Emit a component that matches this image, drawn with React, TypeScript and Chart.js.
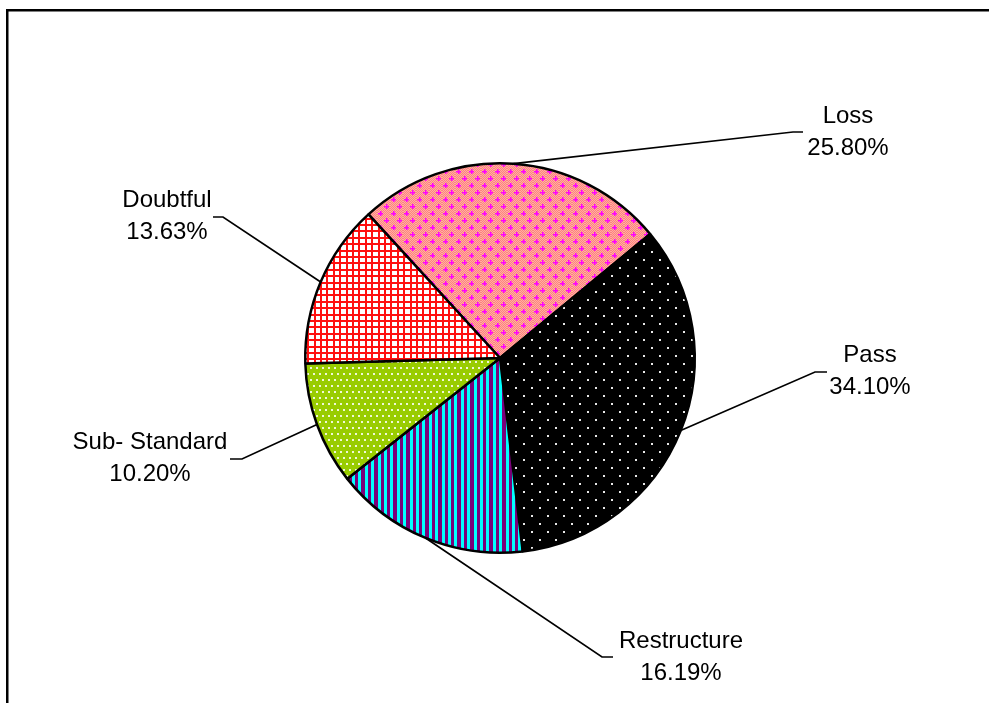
import React, { useEffect, useRef } from "react";
import { Chart, registerables } from "chart.js";
Chart.register(...registerables);

const categories = ["Loss", "Pass", "Restructure", "Sub- Standard", "Doubtful"];
const shares = [25.8, 34.1, 16.19, 10.2, 13.63];
const shareLabels = ["25.80%", "34.10%", "16.19%", "10.20%", "13.63%"];

// label layout (text centre x, first baseline y, leader elbow, leader end)
const labelLayout = [
  { x: 848, y: 123, elbow: [793, 132], end: [803, 132] },
  { x: 870, y: 362, elbow: [815, 372], end: [827, 372] },
  { x: 681, y: 648, elbow: [602, 657], end: [613, 657] },
  { x: 150, y: 449, elbow: [242, 459], end: [230, 459] },
  { x: 167, y: 207, elbow: [223, 217], end: [213, 217] },
];

function tile(w: number, h: number, draw: (c: CanvasRenderingContext2D) => void) {
  const cv = document.createElement("canvas");
  cv.width = w;
  cv.height = h;
  const c = cv.getContext("2d")!;
  draw(c);
  return c.createPattern(cv, "repeat")!;
}

function makePatterns() {
  const loss = tile(13, 14, (c) => {
    for (let y = 0; y < 14; y++)
      for (let x = 0; x < 13; x++) {
        c.fillStyle = (x + y) % 2 === 0 ? "#FF8080" : "#FFB0A0";
        c.fillRect(x, y, 1, 1);
      }
    c.fillStyle = "#FF00FF";
    const plus = (px: number, py: number) => {
      c.fillRect(px - 2, py, 5, 1.5);
      c.fillRect(px, py - 2, 1.5, 5);
    };
    plus(3, 3);
    plus(9, 10);
  });
  const pass = tile(16, 16, (c) => {
    c.fillStyle = "#000000";
    c.fillRect(0, 0, 16, 16);
    c.fillStyle = "#E8E8E8";
    c.fillRect(3, 3, 2, 2);
    c.fillRect(11, 11, 2, 2);
  });
  const restructure = tile(32, 4, (c) => {
    c.fillStyle = "#7A007A";
    c.fillRect(0, 0, 32, 4);
    c.fillStyle = "#00FFFF";
    for (let i = 0; i < 5; i++) {
      const x0 = Math.round(i * 6.4);
      c.fillRect(x0, 0, 3, 4);
    }
  });
  const sub = tile(12, 12, (c) => {
    c.fillStyle = "#99CC00";
    c.fillRect(0, 0, 12, 12);
    c.fillStyle = "#F0F8D8";
    c.fillRect(1, 1, 2, 2);
    c.fillRect(7, 1, 2, 2);
    c.fillRect(4, 7, 2, 2);
    c.fillRect(10, 7, 2, 2);
  });
  const doubtful = tile(32, 32, (c) => {
    c.fillStyle = "#FFFFFF";
    c.fillRect(0, 0, 32, 32);
    c.fillStyle = "#FF1010";
    for (let i = 0; i < 5; i++) {
      const p = Math.round(i * 6.4);
      c.fillRect(p, 0, 2, 32);
      c.fillRect(0, p, 32, 2);
    }
  });
  return [loss, pass, restructure, sub, doubtful];
}

const labelPlugin = {
  id: "pieLabels",
  beforeDraw(chart: any) {
    const c = chart.ctx;
    c.save();
    c.fillStyle = "#000";
    c.fillRect(6, 9, 983, 2.5);
    c.fillRect(6, 9, 2.5, 694);
    c.restore();
  },
  afterDraw(chart: any) {
    const c = chart.ctx;
    const meta = chart.getDatasetMeta(0);
    c.save();
    c.strokeStyle = "#000";
    c.lineWidth = 1.7;
    c.fillStyle = "#000";
    c.font = '24px "Liberation Sans", Arial, sans-serif';
    c.textAlign = "center";
    c.textBaseline = "alphabetic";
    meta.data.forEach((arc: any, i: number) => {
      const mid = (arc.startAngle + arc.endAngle) / 2;
      const ax = arc.x + Math.cos(mid) * arc.outerRadius;
      const ay = arc.y + Math.sin(mid) * arc.outerRadius;
      const L = labelLayout[i];
      c.beginPath();
      c.moveTo(ax, ay);
      c.lineTo(L.elbow[0], L.elbow[1]);
      c.lineTo(L.end[0], L.end[1]);
      c.stroke();
      c.fillText(categories[i], L.x, L.y);
      c.fillText(shareLabels[i], L.x, L.y + 32);
    });
    c.restore();
  },
};

export default function App() {
  const ref = useRef<HTMLCanvasElement>(null);
  useEffect(() => {
    const cv = ref.current!;
    const patterns = makePatterns();
    const chart = new Chart(cv, {
      type: "pie",
      data: {
        labels: categories,
        datasets: [
          {
            data: shares,
            backgroundColor: patterns as any,
            borderColor: "#000000",
            borderWidth: 2.5,
          },
        ],
      },
      options: {
        responsive: false,
        animation: false,
        rotation: -42.5,
        layout: { padding: { left: 304, top: 162, right: 293, bottom: 149 } },
        plugins: { legend: { display: false }, tooltip: { enabled: false } },
      },
      plugins: [labelPlugin],
    });
    return () => chart.destroy();
  }, []);
  return (
    <div style={{ position: "fixed", left: 0, top: 0, width: 989, height: 703, background: "#fff" }}>
      <canvas ref={ref} width={989} height={703} style={{ display: "block" }} />
    </div>
  );
}
